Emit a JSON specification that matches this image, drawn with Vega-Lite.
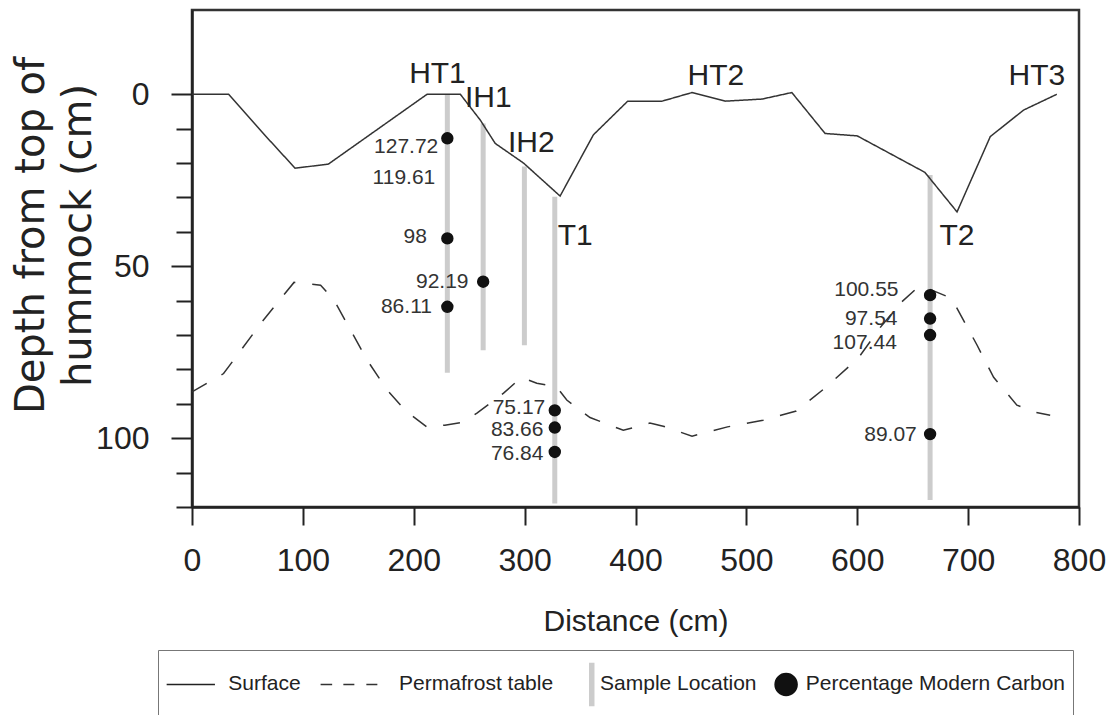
{
  "$schema": "https://vega.github.io/schema/vega-lite/v6.json",
  "width": 887,
  "height": 497,
  "autosize": {"type": "none"},
  "padding": {"left": 192, "top": 10, "right": 31, "bottom": 208},
  "background": "white",
  "config": {
    "font": "Liberation Sans, Arial, sans-serif",
    "view": {"stroke": "#333333", "strokeWidth": 2.5}
  },
  "datasets": {
    "profiles": [
      {"series": "Surface", "x": 0, "y": 0},
      {"series": "Surface", "x": 33, "y": 0},
      {"series": "Surface", "x": 66, "y": 12},
      {"series": "Surface", "x": 93, "y": 21.5},
      {"series": "Surface", "x": 123, "y": 20.3},
      {"series": "Surface", "x": 212, "y": 0},
      {"series": "Surface", "x": 242, "y": 0},
      {"series": "Surface", "x": 260, "y": 7.5},
      {"series": "Surface", "x": 273.5, "y": 14.3},
      {"series": "Surface", "x": 299, "y": 20},
      {"series": "Surface", "x": 332, "y": 29.6},
      {"series": "Surface", "x": 362, "y": 11.8},
      {"series": "Surface", "x": 393, "y": 2},
      {"series": "Surface", "x": 424, "y": 2},
      {"series": "Surface", "x": 451, "y": -0.5},
      {"series": "Surface", "x": 481, "y": 2},
      {"series": "Surface", "x": 514, "y": 1.4},
      {"series": "Surface", "x": 541, "y": -0.5},
      {"series": "Surface", "x": 571, "y": 11.4},
      {"series": "Surface", "x": 600, "y": 12.1},
      {"series": "Surface", "x": 661, "y": 22.7},
      {"series": "Surface", "x": 690, "y": 34.2},
      {"series": "Surface", "x": 720, "y": 12.3},
      {"series": "Surface", "x": 750, "y": 4.6},
      {"series": "Surface", "x": 780, "y": 0},
      {"series": "Permafrost table", "x": 0, "y": 86.5},
      {"series": "Permafrost table", "x": 28.5, "y": 81.2},
      {"series": "Permafrost table", "x": 63, "y": 66.2},
      {"series": "Permafrost table", "x": 92, "y": 54.7},
      {"series": "Permafrost table", "x": 116, "y": 55.5},
      {"series": "Permafrost table", "x": 128, "y": 59.8},
      {"series": "Permafrost table", "x": 158, "y": 77.3},
      {"series": "Permafrost table", "x": 176, "y": 86},
      {"series": "Permafrost table", "x": 193, "y": 92.1},
      {"series": "Permafrost table", "x": 212, "y": 96.8},
      {"series": "Permafrost table", "x": 228, "y": 96.2},
      {"series": "Permafrost table", "x": 244, "y": 95.4},
      {"series": "Permafrost table", "x": 257, "y": 92.7},
      {"series": "Permafrost table", "x": 281, "y": 86.9},
      {"series": "Permafrost table", "x": 297, "y": 82.3},
      {"series": "Permafrost table", "x": 311, "y": 84},
      {"series": "Permafrost table", "x": 329, "y": 85.1},
      {"series": "Permafrost table", "x": 338, "y": 88.9},
      {"series": "Permafrost table", "x": 359, "y": 94},
      {"series": "Permafrost table", "x": 389, "y": 97.7},
      {"series": "Permafrost table", "x": 413, "y": 95.6},
      {"series": "Permafrost table", "x": 425, "y": 96.5},
      {"series": "Permafrost table", "x": 451, "y": 99.4},
      {"series": "Permafrost table", "x": 483, "y": 96.7},
      {"series": "Permafrost table", "x": 515, "y": 94.8},
      {"series": "Permafrost table", "x": 545, "y": 92.1},
      {"series": "Permafrost table", "x": 571, "y": 85.4},
      {"series": "Permafrost table", "x": 601, "y": 76.7},
      {"series": "Permafrost table", "x": 621, "y": 67.7},
      {"series": "Permafrost table", "x": 640, "y": 60.4},
      {"series": "Permafrost table", "x": 655, "y": 56},
      {"series": "Permafrost table", "x": 663, "y": 56.4},
      {"series": "Permafrost table", "x": 685, "y": 59.3},
      {"series": "Permafrost table", "x": 708, "y": 72.9},
      {"series": "Permafrost table", "x": 723, "y": 82.3},
      {"series": "Permafrost table", "x": 744, "y": 90.4},
      {"series": "Permafrost table", "x": 760, "y": 92.4},
      {"series": "Permafrost table", "x": 774, "y": 93.3}
    ],
    "samples": [
      {"site": "HT1", "x": 230.3, "y": 0, "y2": 81},
      {"site": "IH1", "x": 262.6, "y": 8.5, "y2": 74.4},
      {"site": "IH2", "x": 299.8, "y": 21, "y2": 73},
      {"site": "T1", "x": 327.2, "y": 29.8, "y2": 119},
      {"site": "T2", "x": 665.7, "y": 23.5, "y2": 118}
    ],
    "carbon": [
      {"series": "Percentage Modern Carbon", "x": 230.3, "y": 12.8, "pmc": 127.72},
      {"series": "Percentage Modern Carbon", "x": 230.3, "y": 41.9, "pmc": 98},
      {"series": "Percentage Modern Carbon", "x": 230.3, "y": 61.8, "pmc": 86.11},
      {"series": "Percentage Modern Carbon", "x": 262.6, "y": 54.5, "pmc": 92.19},
      {"series": "Percentage Modern Carbon", "x": 327.2, "y": 91.9, "pmc": 75.17},
      {"series": "Percentage Modern Carbon", "x": 327.2, "y": 96.9, "pmc": 83.66},
      {"series": "Percentage Modern Carbon", "x": 327.2, "y": 104, "pmc": 76.84},
      {"series": "Percentage Modern Carbon", "x": 665.7, "y": 58.4, "pmc": 100.55},
      {"series": "Percentage Modern Carbon", "x": 665.7, "y": 65.2, "pmc": 97.54},
      {"series": "Percentage Modern Carbon", "x": 665.7, "y": 70, "pmc": 107.44},
      {"series": "Percentage Modern Carbon", "x": 665.7, "y": 98.8, "pmc": 89.07}
    ],
    "pmcLabels": [
      {"text": "127.72", "x": 222.1, "y": 15.4},
      {"text": "119.61", "x": 219.4, "y": 24.4},
      {"text": "98", "x": 211.9, "y": 41.4},
      {"text": "92.19", "x": 249.4, "y": 54.5},
      {"text": "86.11", "x": 216.4, "y": 61.8},
      {"text": "75.17", "x": 318.6, "y": 91.2},
      {"text": "83.66", "x": 317, "y": 97.7},
      {"text": "76.84", "x": 317, "y": 104.7},
      {"text": "100.55", "x": 637.2, "y": 56.9},
      {"text": "97.54", "x": 636.3, "y": 65.2},
      {"text": "107.44", "x": 635.7, "y": 72.4},
      {"text": "89.07", "x": 653.7, "y": 99.1}
    ],
    "sites": [
      {"label": "HT1", "x": 221.4, "y": -3.2},
      {"label": "IH1", "x": 267.2, "y": 3.6},
      {"label": "IH2", "x": 306, "y": 16.7},
      {"label": "T1", "x": 345.6, "y": 43.9},
      {"label": "HT2", "x": 472.5, "y": -2.7},
      {"label": "T2", "x": 690, "y": 43.9},
      {"label": "HT3", "x": 762, "y": -2.7}
    ]
  },
  "encoding": {
    "x": {
      "field": "x",
      "type": "quantitative",
      "scale": {"domain": [0, 800], "nice": false, "zero": false},
      "axis": {
        "title": "Distance (cm)",
        "values": [0, 100, 200, 300, 400, 500, 600, 700, 800],
        "format": "d",
        "grid": false,
        "domainColor": "#222222",
        "domainWidth": 2.5,
        "tickColor": "#222222",
        "tickWidth": 2,
        "tickSize": 18,
        "labelFontSize": 32,
        "labelColor": "#222222",
        "labelPadding": 20,
        "labelFlush": false,
        "labelOverlap": false,
        "titleFontSize": 30,
        "titleFontWeight": "normal",
        "titleColor": "#222222",
        "titleBaseline": "alphabetic",
        "titleY": 123
      }
    },
    "y": {
      "field": "y",
      "type": "quantitative",
      "scale": {"domain": [-24.5, 120], "reverse": true, "nice": false, "zero": false},
      "axis": {
        "title": ["Depth from top of", "hummock (cm)"],
        "values": [0, 10, 20, 30, 40, 50, 60, 70, 80, 90, 100, 110, 120],
        "labelExpr": "datum.value % 50 === 0 ? datum.label : ''",
        "grid": false,
        "domainColor": "#222222",
        "domainWidth": 2.5,
        "tickColor": "#222222",
        "tickWidth": 2,
        "tickSize": {"condition": {"test": "datum.value % 50 === 0", "value": 21}, "value": 16},
        "labelFontSize": 32,
        "labelColor": "#222222",
        "labelAlign": "right",
        "labelPadding": 22,
        "labelFlush": false,
        "labelOverlap": false,
        "titleFont": "DejaVu Sans",
        "titleFontSize": 40,
        "titleFontWeight": "normal",
        "titleColor": "#222222",
        "titleLineHeight": 47,
        "titleBaseline": "alphabetic",
        "titleAlign": "center",
        "titleX": -149,
        "titleY": 225
      }
    }
  },
  "layer": [
    {
      "data": {"name": "samples"},
      "mark": {"type": "rule", "strokeWidth": 5, "color": "#cccccc"},
      "encoding": {"y2": {"field": "y2"}}
    },
    {
      "data": {"name": "profiles"},
      "mark": {"type": "line", "strokeWidth": 1.5, "color": "#333333"},
      "encoding": {
        "strokeDash": {
          "field": "series",
          "type": "nominal",
          "scale": {"domain": ["Surface", "Permafrost table"], "range": [[1, 0], [17, 17]]},
          "legend": null
        }
      }
    },
    {
      "data": {"name": "carbon"},
      "mark": {"type": "point", "strokeWidth": 1.5, "opacity": 1, "size": 663.6},
      "encoding": {
        "shape": {
          "field": "series",
          "type": "nominal",
          "scale": {
            "domain": ["Surface", "Permafrost table", "Sample Location", "Percentage Modern Carbon"],
            "range": [
              "M-1.6096,-0.8077M-1.6096,0.8077M-1.6096,0L0.2481,0",
              "M-3.7365,-0.8077M-3.7365,0.8077M-3.7365,0M-2.2577,0L-1.8135,0M-1.3827,0L-0.9596,0M-0.4981,0L-0.075,0",
              "M0.3635,-0.8077L0.5173,-0.8077L0.5173,0.8077L0.3635,0.8077Z",
              "M-1.8558,-0.8077M-1.8558,0.8077M-0.4231,0A0.4231,0.4231 0 1,0 0.4231,0A0.4231,0.4231 0 1,0 -0.4231,0Z"
            ]
          },
          "legend": {
            "title": " ",
            "titleOrient": "left",
            "titlePadding": 16.5,
            "titleFontSize": 1,
            "orient": "none",
            "legendX": -34,
            "legendY": 640,
            "direction": "horizontal",
            "columns": 4,
            "padding": 7,
            "strokeColor": "#777777",
            "symbolSize": 2704,
            "symbolStrokeWidth": 1.5,
            "symbolOpacity": 1,
            "labelOffset": -7.25,
            "columnPadding": -23.2,
            "labelFontSize": 21,
            "labelColor": "#222222",
            "labelLimit": 600
          }
        },
        "stroke": {
          "field": "series",
          "type": "nominal",
          "scale": {
            "domain": ["Surface", "Permafrost table", "Sample Location", "Percentage Modern Carbon"],
            "range": ["#222222", "#333333", "#cccccc", "#111111"]
          }
        },
        "fill": {
          "field": "series",
          "type": "nominal",
          "scale": {
            "domain": ["Surface", "Permafrost table", "Sample Location", "Percentage Modern Carbon"],
            "range": ["transparent", "transparent", "#cccccc", "#111111"]
          }
        }
      }
    },
    {
      "data": {"name": "pmcLabels"},
      "mark": {"type": "text", "align": "right", "baseline": "middle", "fontSize": 21, "color": "#333333"},
      "encoding": {"text": {"field": "text"}}
    },
    {
      "data": {"name": "sites"},
      "mark": {"type": "text", "align": "center", "baseline": "alphabetic", "fontSize": 30, "color": "#222222"},
      "encoding": {"text": {"field": "label"}}
    }
  ]
}
